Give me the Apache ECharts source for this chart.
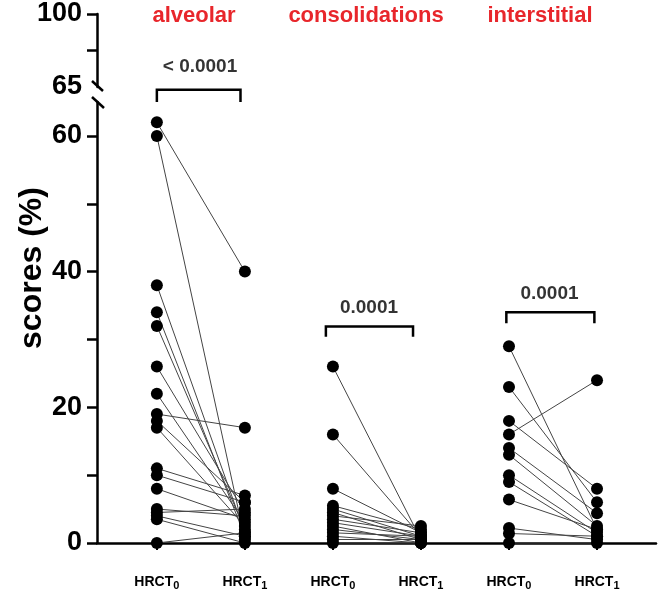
<!DOCTYPE html>
<html>
<head>
<meta charset="utf-8">
<script src="https://cdn.jsdelivr.net/npm/echarts@6/dist/echarts.min.js"></script>
<style>
  html, body { margin: 0; padding: 0; background: #fff; }
  #chart { width: 661px; height: 596px; }
</style>
</head>
<body>
<div id="chart"></div>
<script>
// x positions: 1,2 alveolar / 3,4 consolidations / 5,6 interstitial
const groups = ['alveolar', 'consolidations', 'interstitial'];
const timeLabels = ['0', '1', '0', '1', '0', '1'];

// paired scores [HRCT0, HRCT1]
const alveolar = [
  [62, 40], [60, 0.5], [38, 1.5], [34, 1], [32, 2], [26, 4.5], [22, 3],
  [19, 17], [18, 6], [17, 2.5], [11, 7], [10, 6], [8, 3.5], [5, 4],
  [4.5, 5], [4, 1], [3.5, 0], [0, 1.5]
];
const consolidations = [
  [26, 0.5], [16, 1], [8, 1.5], [5.5, 2], [5, 1], [4.5, 0.5], [4, 2.5],
  [3.5, 1.5], [3, 1], [2.5, 0], [2, 0.5], [1.5, 1], [1, 0], [0.5, 0.5], [0, 0]
];
const interstitial = [
  [29, 2], [23, 6], [18, 8], [16, 24], [14, 4.4], [13, 2.5], [10, 1.5],
  [9, 1], [6.4, 2], [2.2, 0.5], [1.4, 1], [0, 0]
];

// brackets: [x0, x1, y, legEnd]
const brackets = [[1.0, 1.95, 66.8, 65.0], [2.92, 3.91, 31.9, 30.4], [4.97, 5.97, 34.0, 32.4]];
const pTexts = [[1.49, 70.2, '< 0.0001'], [3.41, 34.6, '0.0001'], [5.46, 36.8, '0.0001']];

const lowTicks = [0, 10, 20, 30, 40, 50, 60];
const lowLabels = [0, 20, 40, 60];
const highTicks = [82.5, 100];
const highLabels = [65, 100];

const FONT = 'Liberation Sans, Arial, sans-serif';

const allPairs = [alveolar, consolidations, interstitial];
const segs = [];
const pts = [];
allPairs.forEach((pairs, g) => {
  const x0 = g * 2 + 1;
  pairs.forEach((p) => {
    segs.push({ coords: [[x0, p[0]], [x0 + 1, p[1]]] });
    pts.push([x0, p[0]]);
    pts.push([x0 + 1, p[1]]);
  });
});

const bracketSegs = brackets.map((b) => ({
  coords: [[b[0], b[3]], [b[0], b[2]], [b[1], b[2]], [b[1], b[3]]]
}));

const chart = echarts.init(document.getElementById('chart'));

chart.setOption({
  animation: false,
  grid: [
    { left: 97, right: 5, top: 102, bottom: 53 },
    { left: 97, right: 5, top: 14, height: 73 }
  ],
  xAxis: [
    {
      type: 'value', gridIndex: 0, min: 0.32, max: 6.67,
      splitLine: { show: false },
      axisLine: { lineStyle: { color: '#000', width: 2.5 } },
      axisTick: { customValues: [1, 2, 3, 4, 5, 6], length: 7, lineStyle: { color: '#000', width: 2 } },
      axisLabel: {
        customValues: [1, 2, 3, 4, 5, 6],
        margin: 30,
        formatter: (v) => '{a|HRCT}{s|' + timeLabels[Math.round(v) - 1] + '}',
        rich: {
          a: { fontFamily: FONT, fontWeight: 'bold', fontSize: 14, color: '#000', lineHeight: 18 },
          s: { fontFamily: FONT, fontWeight: 'bold', fontSize: 11, color: '#000', verticalAlign: 'bottom', lineHeight: 12, padding: [7, 0, 0, 0] }
        }
      }
    },
    {
      type: 'value', gridIndex: 1, min: 0.32, max: 6.67, show: false
    }
  ],
  yAxis: [
    {
      type: 'value', gridIndex: 0, min: 0, max: 65,
      splitLine: { show: false },
      axisLine: { show: true, lineStyle: { color: '#000', width: 2.5 } },
      axisTick: { show: true, customValues: lowTicks, length: 10, lineStyle: { color: '#000', width: 2.5 } },
      axisLabel: {
        customValues: lowLabels, margin: 15,
        fontFamily: FONT, fontWeight: 'bold', fontSize: 27, color: '#000'
      }
    },
    {
      type: 'value', gridIndex: 1, min: 65, max: 100,
      splitLine: { show: false },
      axisLine: { show: true, lineStyle: { color: '#000', width: 2.5 } },
      axisTick: { show: true, customValues: highTicks, length: 10, lineStyle: { color: '#000', width: 2.5 } },
      axisLabel: {
        customValues: highLabels, margin: 15,
        fontFamily: FONT, fontWeight: 'bold', fontSize: 27, color: '#000'
      }
    }
  ],
  graphic: [
    { type: 'line', shape: { x1: 92, y1: 81, x2: 103, y2: 91 }, style: { stroke: '#000', lineWidth: 2.5 } },
    { type: 'line', shape: { x1: 92, y1: 97, x2: 103, y2: 107 }, style: { stroke: '#fff', lineWidth: 6 } },
    { type: 'line', shape: { x1: 92, y1: 97, x2: 104, y2: 108 }, style: { stroke: '#000', lineWidth: 2.5 } },
    {
      type: 'text', x: 32, y: 268, rotation: Math.PI / 2,
      style: { text: 'scores (%)', fontFamily: FONT, fontWeight: 'bold', fontSize: 32, fill: '#000', align: 'center', verticalAlign: 'middle' }
    },
    { type: 'text', x: 194, y: 16, style: { text: groups[0], fontFamily: FONT, fontWeight: 'bold', fontSize: 22, fill: '#e8262b', align: 'center', verticalAlign: 'middle' } },
    { type: 'text', x: 366, y: 16, style: { text: groups[1], fontFamily: FONT, fontWeight: 'bold', fontSize: 22, fill: '#e8262b', align: 'center', verticalAlign: 'middle' } },
    { type: 'text', x: 540, y: 16, style: { text: groups[2], fontFamily: FONT, fontWeight: 'bold', fontSize: 22, fill: '#e8262b', align: 'center', verticalAlign: 'middle' } }
  ],
  series: [
    {
      type: 'lines', coordinateSystem: 'cartesian2d', xAxisIndex: 0, yAxisIndex: 0,
      data: segs, silent: true,
      lineStyle: { color: '#444', width: 1, opacity: 1 }
    },
    {
      type: 'scatter', xAxisIndex: 0, yAxisIndex: 0, data: pts,
      symbol: 'circle', symbolSize: 12, clip: false,
      itemStyle: { color: '#000', opacity: 1 }
    },
    {
      type: 'lines', coordinateSystem: 'cartesian2d', xAxisIndex: 0, yAxisIndex: 0,
      polyline: true, data: bracketSegs, clip: false, silent: true,
      lineStyle: { color: '#000', width: 2.5, opacity: 1 }
    },
    {
      type: 'scatter', xAxisIndex: 0, yAxisIndex: 0, clip: false,
      data: pTexts.map((t) => ({ value: [t[0], t[1]], name: t[2] })),
      symbolSize: 0,
      label: {
        show: true, position: 'inside', formatter: (p) => p.name,
        fontFamily: FONT, fontWeight: 'bold', fontSize: 19, color: '#000',
        textBorderWidth: 0
      }
    }
  ]
});
</script>
</body>
</html>
